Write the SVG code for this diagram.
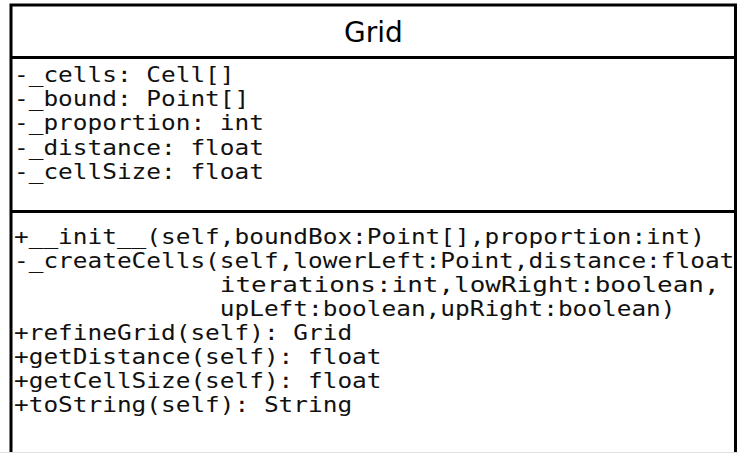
<svg xmlns="http://www.w3.org/2000/svg" width="738" height="453" viewBox="0 0 738 453">
  <style>
    .frame { fill: #ffffff; stroke: #000000; stroke-width: 3; }
    .sep { stroke: #000000; stroke-width: 3; }
    .title { font-family: "DejaVu Sans", "Liberation Sans", sans-serif; font-size: 28px; fill: #000000; text-anchor: middle; }
    .member { font-family: "DejaVu Sans Mono", "Liberation Mono", monospace; font-size: 21px; fill: #111111; }
  </style>
  <rect width="738" height="453" fill="#ffffff"/>
  <g id="Grid">
    <!-- class box, its lower edge runs past the canvas -->
    <rect class="frame" x="11" y="5" width="724.5" height="470"/>
    <line x1="0" y1="452.5" x2="738" y2="452.5" stroke="#e0e0e0" stroke-width="1"/>
    <text class="title" x="373.5" y="42">Grid</text>
    <line class="sep" x1="11" y1="57.5" x2="735.5" y2="57.5"/>
    <!-- attributes: 14.7px per character cell -->
    <text class="member" x="14" y="82" textLength="220.5" lengthAdjust="spacingAndGlyphs">-_cells: Cell[]</text>
    <text class="member" x="14" y="106" textLength="235.2" lengthAdjust="spacingAndGlyphs">-_bound: Point[]</text>
    <text class="member" x="14" y="130" textLength="249.9" lengthAdjust="spacingAndGlyphs">-_proportion: int</text>
    <text class="member" x="14" y="154.5" textLength="249.9" lengthAdjust="spacingAndGlyphs">-_distance: float</text>
    <text class="member" x="14" y="179" textLength="249.9" lengthAdjust="spacingAndGlyphs">-_cellSize: float</text>
    <line class="sep" x1="11" y1="211.5" x2="735.5" y2="211.5"/>
    <!-- operations -->
    <text class="member" x="14" y="244" textLength="690.9" lengthAdjust="spacingAndGlyphs">+__init__(self,boundBox:Point[],proportion:int)</text>
    <text class="member" x="14" y="268" textLength="720.3" lengthAdjust="spacingAndGlyphs">-_createCells(self,lowerLeft:Point,distance:float</text>
    <text class="member" x="219.8" y="292" textLength="499.8" lengthAdjust="spacingAndGlyphs">iterations:int,lowRight:boolean,</text>
    <text class="member" x="219.8" y="316" textLength="455.7" lengthAdjust="spacingAndGlyphs">upLeft:boolean,upRight:boolean)</text>
    <text class="member" x="14" y="340" textLength="338.1" lengthAdjust="spacingAndGlyphs">+refineGrid(self): Grid</text>
    <text class="member" x="14" y="364" textLength="367.5" lengthAdjust="spacingAndGlyphs">+getDistance(self): float</text>
    <text class="member" x="14" y="388" textLength="367.5" lengthAdjust="spacingAndGlyphs">+getCellSize(self): float</text>
    <text class="member" x="14" y="412" textLength="338.1" lengthAdjust="spacingAndGlyphs">+toString(self): String</text>
  </g>
  <g id="connectors"/>
</svg>
